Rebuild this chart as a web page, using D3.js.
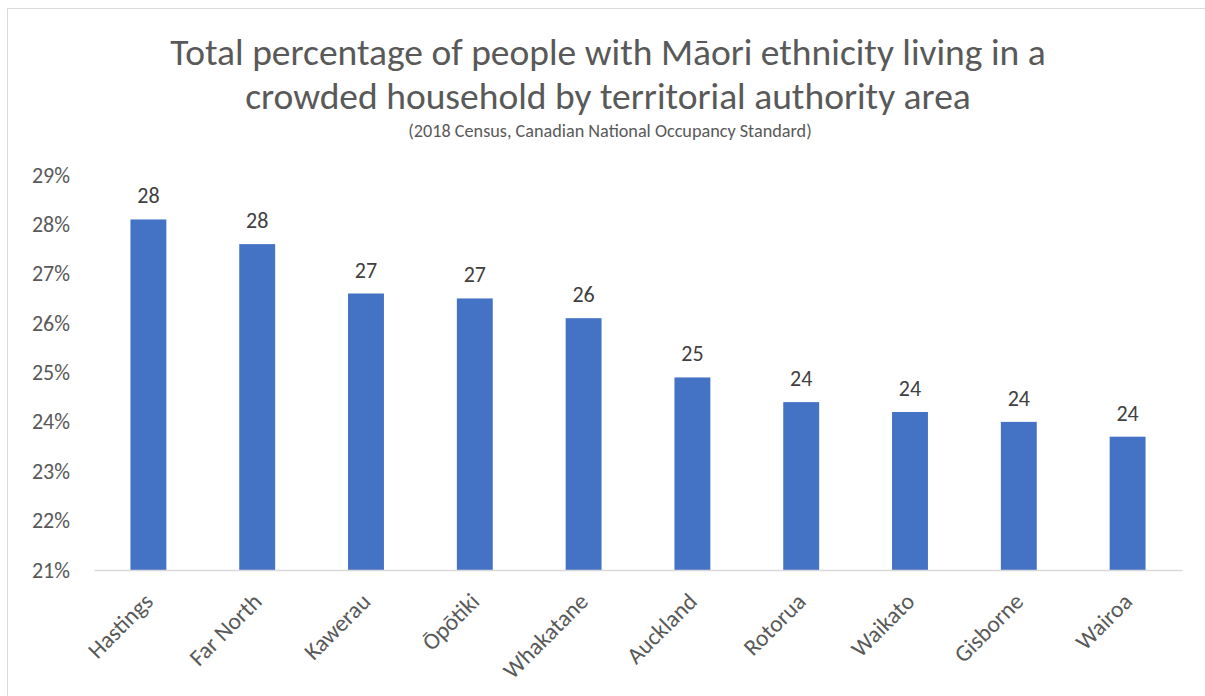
<!DOCTYPE html>
<html>
<head>
<meta charset="utf-8">
<script src="https://cdn.jsdelivr.net/npm/d3@7"></script>
<style>
  html, body { margin: 0; padding: 0; background: #fff; }
  svg { display: block; font-family: Calibri, Carlito, Lato, "Open Sans", sans-serif; }
</style>
</head>
<body>
<svg id="chart" width="1205" height="696"></svg>
<script>
// Territorial authority areas, highest share first
const areas = ["Hastings", "Far North", "Kawerau", "Ōpōtiki", "Whakatane",
               "Auckland", "Rotorua", "Waikato", "Gisborne", "Wairoa"];
// Percentage of people with Māori ethnicity living in a crowded household
const crowdedPct = [28.1, 27.6, 26.6, 26.5, 26.1, 24.9, 24.4, 24.2, 24.0, 23.7];
// Value-axis ticks (percent)
const yTicks = [21, 22, 23, 24, 25, 26, 27, 28, 29];

const titleLines = ["Total percentage of people with Māori ethnicity living in a",
                    "crowded household by territorial authority area"];
const subtitle = "(2018 Census, Canadian National Occupancy Standard)";

const W = 1205, H = 696;
const FONT = "Calibri, Carlito, Lato, 'Open Sans', sans-serif";
const svg = d3.select("#chart");
const margin = { left: 94, right: 23, top: 175, bottom: 126 };

// Frame around the chart area
svg.append("path")
  .attr("d", `M7.5,${H} L7.5,8.5 L${W},8.5`)
  .attr("fill", "none").attr("stroke", "#d9d9d9").attr("stroke-width", 1);

// Title (light weight)
svg.append("g").selectAll("text").data(titleLines).join("text")
  .attr("x", 608).attr("y", (d, i) => 65 + i * 44)
  .attr("text-anchor", "middle")
  .attr("fill", "#595959").attr("font-size", 37.5).attr("font-weight", 300)
  .text(d => d);

svg.append("text")
  .attr("x", 610).attr("y", 137)
  .attr("text-anchor", "middle")
  .attr("fill", "#595959").attr("font-size", 18.2)
  .text(subtitle);

const x = d3.scaleBand()
  .domain(areas)
  .range([margin.left, W - margin.right])
  .paddingInner(0.67).paddingOuter(0.335);

const y = d3.scaleLinear()
  .domain([21, 29])
  .range([H - margin.bottom, margin.top]);

// Y axis labels
const yAxis = svg.append("g")
  .attr("transform", `translate(${margin.left - 24},0)`)
  .call(d3.axisLeft(y).tickValues(yTicks).tickFormat(d => d + "%").tickSize(0).tickPadding(0));
yAxis.select(".domain").remove();
yAxis.selectAll("text").attr("fill", "#595959").attr("font-size", 22)
  .attr("font-family", FONT);

// Bars
svg.append("g").selectAll("rect").data(areas).join("rect")
  .attr("x", d => x(d))
  .attr("width", x.bandwidth())
  .attr("y", (d, i) => y(crowdedPct[i]))
  .attr("height", (d, i) => y(21) - y(crowdedPct[i]))
  .attr("fill", "#4472c4");

// Category axis line
const xAxis = svg.append("g")
  .attr("transform", `translate(0,${y(21)})`)
  .call(d3.axisBottom(x).tickSize(0).tickPadding(0));
xAxis.select(".domain").attr("stroke", "#d9d9d9").attr("stroke-width", 1.5);
xAxis.selectAll(".tick text")
  .attr("text-anchor", "end")
  .attr("fill", "#595959").attr("font-size", 23.5)
  .attr("font-family", FONT)
  .attr("dy", null).attr("y", null)
  .attr("transform", `translate(6,33) rotate(-45)`);

// Data labels
svg.append("g").selectAll("text").data(areas).join("text")
  .attr("x", d => x(d) + x.bandwidth() / 2)
  .attr("y", (d, i) => y(crowdedPct[i]) - 16)
  .attr("text-anchor", "middle")
  .attr("fill", "#404040").attr("font-size", 22)
  .text((d, i) => d3.format(".0f")(crowdedPct[i]));
</script>
</body>
</html>
